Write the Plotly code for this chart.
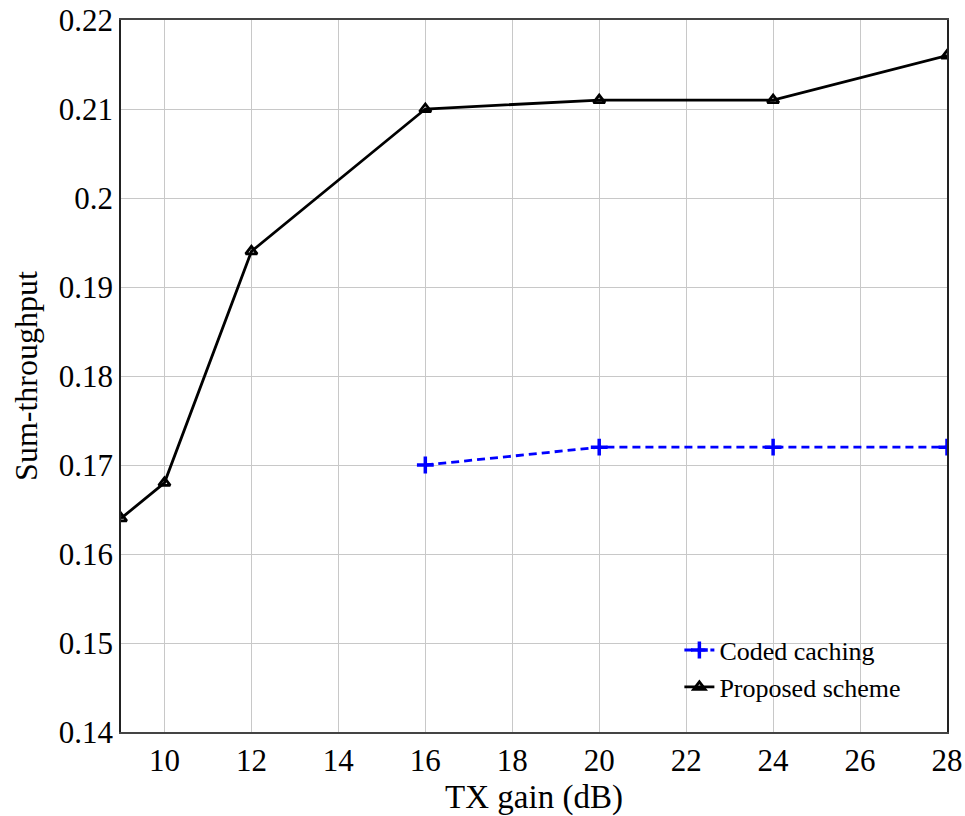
import plotly.graph_objects as go

x_proposed = [9, 10, 12, 16, 20, 24, 28]
y_proposed = [0.164, 0.168, 0.194, 0.210, 0.211, 0.211, 0.216]
x_coded = [16, 20, 24, 28]
y_coded = [0.170, 0.172, 0.172, 0.172]
x_ticks = [10, 12, 14, 16, 18, 20, 22, 24, 26, 28]
y_ticks = [0.14, 0.15, 0.16, 0.17, 0.18, 0.19, 0.2, 0.21, 0.22]
y_ticklabels = ["0.14", "0.15", "0.16", "0.17", "0.18", "0.19", "0.2", "0.21", "0.22"]

fig = go.Figure()
fig.add_trace(go.Scatter(
    x=x_coded, y=y_coded, name="Coded caching", mode="lines+markers",
    line=dict(color="#0000ff", width=2.8, dash="8px,5px"),
    marker=dict(symbol="cross-thin", size=12, line=dict(color="#0000ff", width=3.5)),
))
fig.add_trace(go.Scatter(
    x=x_proposed, y=y_proposed, name="Proposed scheme", mode="lines+markers",
    line=dict(color="black", width=2.8),
    marker=dict(symbol="triangle-up-open", size=10, color="black", line=dict(color="black", width=2.8)),
))

font = "Liberation Serif, Times New Roman, serif"
fig.update_layout(
    width=965, height=816,
    margin=dict(l=121, r=18, t=20, b=84, autoexpand=False),
    plot_bgcolor="white", paper_bgcolor="white",
    font=dict(family=font, size=26, color="black"),
    legend=dict(x=0.676, y=0.148, xanchor="left", yanchor="top",
                bgcolor="rgba(255,255,255,0)", borderwidth=0, itemwidth=30,
                font=dict(family=font, size=26), tracegroupgap=0),
    showlegend=True,
)
fig.update_xaxes(
    range=[9, 28], tickvals=x_ticks, showgrid=True, gridcolor="#c8c8c8", gridwidth=1,
    showline=True, linecolor="#444444", linewidth=1.5, mirror=True, ticks="",
    title=dict(text="TX gain (dB)", font=dict(size=33), standoff=8),
    tickfont=dict(size=31), zeroline=False, automargin=False,
    ticklabeloverflow="allow",
)
fig.update_yaxes(
    range=[0.14, 0.22], tickvals=y_ticks, ticktext=y_ticklabels, showgrid=True,
    gridcolor="#c8c8c8", gridwidth=1,
    showline=True, linecolor="#222222", linewidth=1.5, mirror=True, ticks="",
    title=dict(text="Sum-throughput", font=dict(size=32), standoff=12),
    tickfont=dict(size=31), zeroline=False, automargin=False,
    ticklabeloverflow="allow",
)
fig.write_html("out.html")
